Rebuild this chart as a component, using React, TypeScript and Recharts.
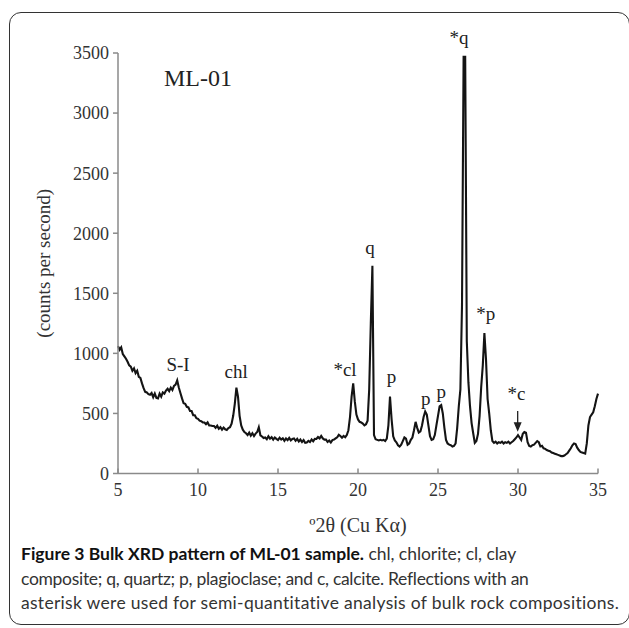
import { LineChart, Line, XAxis, YAxis, ReferenceDot } from 'recharts'

// XRD scan: 5.0 to 35.0 deg 2-theta, 0.1 deg step, counts per second
const scanStart = 5
const scanStep = 0.1
const counts = [
  1060, 1030, 1050, 995, 975, 955, 930, 900, 890, 855,
  875, 835, 855, 805, 795, 750, 710, 680, 675, 660,
  655, 670, 635, 665, 630, 625, 665, 640, 675, 665,
  690, 705, 685, 715, 695, 730, 740, 775, 715, 670,
  625, 585, 580, 555, 550, 520, 520, 485, 485, 460,
  455, 440, 435, 425, 425, 410, 425, 400, 400, 395,
  395, 380, 398, 372, 385, 365, 382, 368, 362, 378,
  385, 415, 480, 580, 715, 640, 480, 400, 365, 345,
  335, 320, 340, 315, 335, 312, 332, 345, 385, 318,
  308, 295, 300, 285, 310, 290, 302, 282, 300, 288,
  278, 298, 282, 293, 272, 292, 278, 297, 276, 288,
  292, 272, 288, 266, 282, 262, 278, 256, 258, 272,
  262, 283, 268, 288, 287, 303, 292, 312, 292, 282,
  282, 262, 274, 258, 278, 282, 292, 302, 322, 312,
  298, 312, 302, 320, 360, 470, 640, 750, 600, 490,
  450, 430, 425, 415, 400, 410, 440, 700, 1250, 1729,
  320, 285, 280, 275, 280, 275, 280, 270, 290, 400,
  640, 450, 310, 275, 260, 235, 225, 240, 270, 300,
  290, 240, 250, 280, 300, 360, 430, 380, 340, 350,
  400, 470, 515, 490, 400, 310, 280, 285, 320, 400,
  480, 560, 570, 500, 380, 280, 250, 240, 235, 225,
  230, 250, 380, 560, 700, 1400, 3468, 3468, 1100, 760,
  560, 420, 335, 255, 270, 330, 480, 720, 900, 1168,
  950, 620, 500, 360, 270, 255, 265, 250, 260, 255,
  265, 250, 260, 255, 265, 250, 260, 270, 285, 300,
  320, 300, 280, 330, 345, 340, 260, 230, 225, 235,
  240, 255, 270, 260, 225, 230, 210, 205, 195, 190,
  185, 175, 170, 165, 160, 155, 150, 145, 145, 150,
  160, 170, 190, 210, 235, 250, 245, 215, 195, 180,
  175, 170, 165, 250, 400, 470, 490, 510, 560, 620,
  665,
]

const xTicks = [5, 10, 15, 20, 25, 30, 35]
const yTicks = [0, 500, 1000, 1500, 2000, 2500, 3000, 3500]

// reflection labels, anchored in data coordinates
const peakLabels = [
  { text: 'S-I', theta: 8.75, counts: 904 },
  { text: 'chl', theta: 12.38, counts: 848 },
  { text: '*cl', theta: 19.19, counts: 862 },
  { text: 'q', theta: 20.75, counts: 1879 },
  { text: 'p', theta: 22.1, counts: 807 },
  { text: 'p', theta: 24.23, counts: 626 },
  { text: 'p', theta: 25.2, counts: 682 },
  { text: '*q', theta: 26.31, counts: 3627 },
  { text: '*p', theta: 27.99, counts: 1335 },
  { text: '*c', theta: 29.9, counts: 668 },
]
const calciteArrow = { theta: 29.98, counts: 362 }

const trace = counts.map((c, i) => ({
  theta: Math.round((scanStart + i * scanStep) * 10) / 10,
  counts: c,
}))

const serif = '"Liberation Serif", "Times New Roman", serif'

export default function App() {
  return (
    <div style={{ position: 'absolute', left: 0, top: 0, width: 629, height: 628, background: '#fff', overflow: 'hidden' }}>
      <div style={{
        position: 'absolute', left: 9, top: 12, width: 619, height: 611,
        border: '1.5px solid #333', borderRadius: 12
      }} />
      <div style={{ position: 'absolute', left: 0, top: 0 }}>
        <LineChart width={629} height={540} data={trace} margin={{ top: 53, right: 31, left: 28, bottom: 8.5 }}>
          <XAxis
            dataKey="theta" type="number" domain={[5, 35]} ticks={xTicks}
            stroke="#8a8a8a" strokeWidth={1.5} tickSize={-5} tickMargin={15} height={58}
            tick={{ fontSize: 18, fontFamily: serif, fill: '#333' }}
            label={{ value: 'º2θ (Cu Kα)', position: 'insideBottom', offset: 0, style: { fontSize: 20, fontFamily: serif, fill: '#333' } }}
          />
          <YAxis
            type="number" domain={[0, 3500]} ticks={yTicks} allowDataOverflow
            stroke="#8a8a8a" strokeWidth={1.5} tickSize={5} tickMargin={4} width={90}
            tick={{ fontSize: 18, fontFamily: serif, fill: '#333' }}
            label={{ value: '(counts per second)', angle: -90, position: 'insideLeft', offset: 15, style: { textAnchor: 'middle', fontSize: 19, fontFamily: serif, fill: '#333' } }}
          />
          <Line type="linear" dataKey="counts" stroke="#141414" strokeWidth={2.1} dot={false} isAnimationActive={false} />
          {peakLabels.map((l, i) => (
            <ReferenceDot
              key={i} x={l.theta} y={l.counts} r={0} ifOverflow="visible"
              shape={(p: { cx?: number; cy?: number }) => (
                <text x={p.cx} y={p.cy} textAnchor="middle" dominantBaseline="central"
                  style={{ fontSize: 19, fontFamily: serif, fill: '#222' }}>{l.text}</text>
              )}
            />
          ))}
          <ReferenceDot
            x={calciteArrow.theta} y={calciteArrow.counts} r={0} ifOverflow="visible"
            shape={(p: { cx?: number; cy?: number }) => (
              <g stroke="#222" strokeWidth={1.3} fill="#222">
                <line x1={p.cx} y1={(p.cy ?? 0) - 19} x2={p.cx} y2={(p.cy ?? 0) - 4} />
                <path d={`M${(p.cx ?? 0) - 3},${(p.cy ?? 0) - 7} L${p.cx},${p.cy} L${(p.cx ?? 0) + 3},${(p.cy ?? 0) - 7} Z`} />
              </g>
            )}
          />
        </LineChart>
      </div>
      <div style={{ position: 'absolute', left: 164, top: 65, fontFamily: serif, fontSize: 24, color: '#222' }}>ML-01</div>
      <div style={{ position: 'absolute', left: 21, top: 542, fontFamily: 'Lato, sans-serif', fontSize: 17.5, lineHeight: '24.5px', color: '#333', whiteSpace: 'nowrap' }}>
        <div><b style={{ color: '#111' }}>Figure 3 Bulk XRD pattern of ML-01 sample.</b><span style={{ letterSpacing: -0.05 }}> chl, chlorite; cl, clay</span></div>
        <div style={{ letterSpacing: -0.3 }}>composite; q, quartz; p, plagioclase; and c, calcite. Reflections with an</div>
        <div style={{ letterSpacing: 0.3 }}>asterisk were used for semi-quantitative analysis of bulk rock compositions.</div>
      </div>
    </div>
  )
}
